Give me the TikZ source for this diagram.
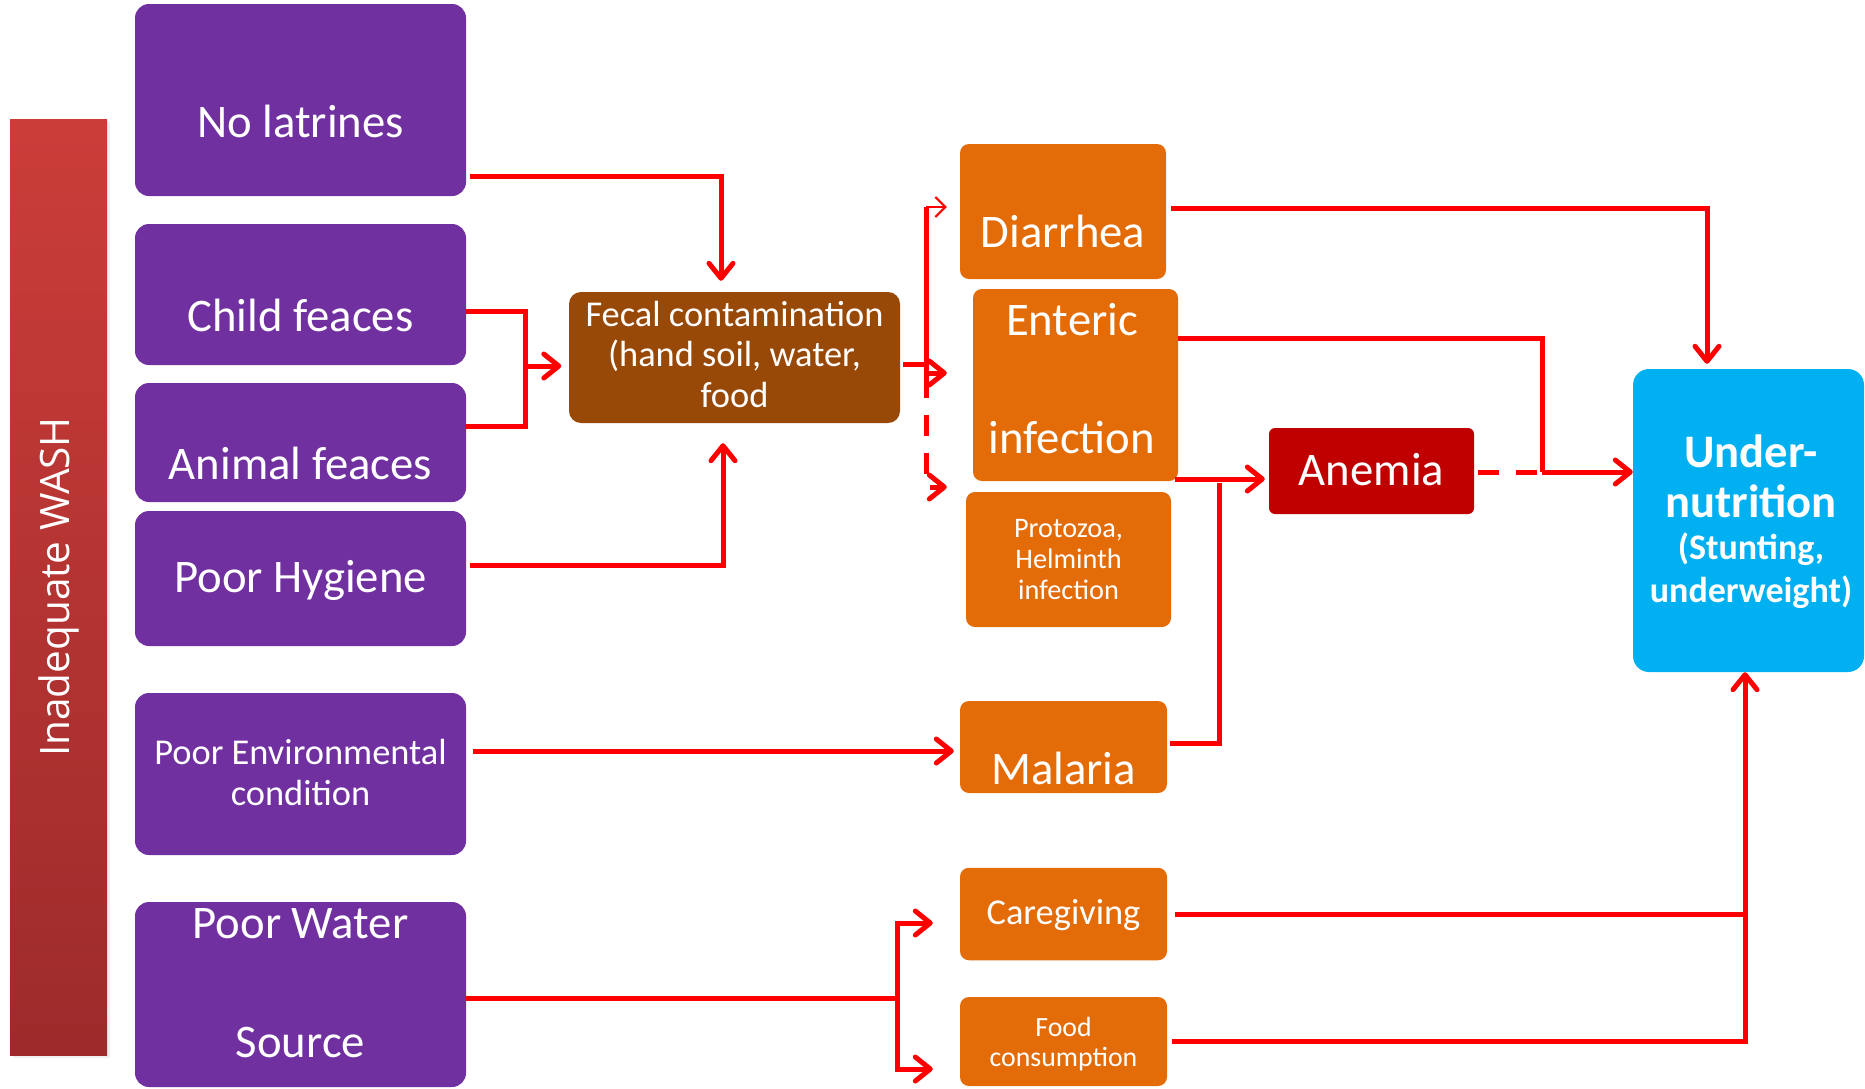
\documentclass[tikz,border=0pt]{standalone}
\usepackage{fontspec}
\setmainfont{Carlito}
\newfontfamily\washfont{Open Sans}
\usepackage{tikz}
\usetikzlibrary{arrows.meta, shadows}
\definecolor{washpurple}{RGB}{112,48,160}
\definecolor{washorange}{RGB}{227,108,9}
\definecolor{washbrown}{RGB}{152,72,7}
\definecolor{washblue}{RGB}{0,176,240}
\definecolor{darkred}{RGB}{192,0,0}
\definecolor{linkred}{RGB}{255,0,0}
\definecolor{bartop}{RGB}{203,61,57}
\definecolor{barbottom}{RGB}{157,43,43}
\tikzset{
  washbar/.style={
      rectangle,
      top color=bartop,
      bottom color=barbottom,
      draw=none,
      inner sep=0pt,
      drop shadow={shadow xshift=3pt, shadow yshift=-3pt, opacity=.12}
  },
  cause/.style={
      fill=washpurple,
      rectangle,
      rounded corners=14pt,
      inner sep=0pt
  },
  effect/.style={
      fill=washorange,
      rectangle,
      rounded corners=9pt,
      inner sep=0pt
  },
  bigtext/.style={text=white, inner sep=0pt, anchor=base, align=center,
      font=\fontsize{46.7}{56}\selectfont},
  midtext/.style={text=white, inner sep=0pt, anchor=base, align=center,
      font=\fontsize{36.4}{40.5}\selectfont},
  smalltext/.style={text=white, inner sep=0pt, anchor=base, align=center,
      font=\fontsize{28.3}{31}\selectfont},
  linkline/.style={draw=linkred, line width=5pt},
  linkarrow/.style={linkline, -{Straight Barb[length=15pt, width=24pt, round]}},
  finearrow/.style={draw=linkred, line width=2pt, -{Straight Barb[length=10pt, width=20pt]}},
  dashlink/.style={dash pattern=on 21pt off 17pt}
}

\begin{document}
\begin{tikzpicture}[x=1pt, y=-1pt]
      \useasboundingbox (0,0) rectangle (1865,1088);

      % WASH bar
      \node (wash) [washbar, minimum width=97pt, minimum height=936pt] at (58.5,587) {};
      \node (washtxt) [rotate=90, text=white, font=\washfont\fontsize{40.5}{48}\selectfont] at (wash.center) {Inadequate WASH};

      % Causes
      \node (nolat) [cause, minimum width=331pt, minimum height=192pt] at (300.5,100) {};
      \node (child) [cause, minimum width=331pt, minimum height=141pt] at (300.5,294.5) {};
      \node (animal) [cause, minimum width=331pt, minimum height=119pt] at (300.5,442.5) {};
      \node (hygiene) [cause, minimum width=331pt, minimum height=135pt] at (300.5,578.5) {};
      \node (environ) [cause, minimum width=331pt, minimum height=162pt] at (300.5,774) {};
      \node (water) [cause, minimum width=331pt, minimum height=185pt] at (300.5,994.5) {};

      \node (nolattxt) [bigtext] at ([shift={(0,37)}]nolat.center) {No latrines};
      \node (childtxt) [bigtext] at ([shift={(0,36.5)}]child.center) {Child feaces};
      \node (animaltxt) [bigtext] at ([shift={(0,36.5)}]animal.center) {Animal feaces};
      \node (hygienetxt) [bigtext] at ([shift={(0,13.5)}]hygiene.center) {Poor Hygiene};
      \node (environtxt) [midtext] at ([shift={(0,31)}]environ.center) {Poor Environmental\\condition};
      \node (watertxt) [bigtext] at ([shift={(0,-56.5)}]water.center) {Poor Water};
      \node (sourcetxt) [bigtext] at ([shift={(0,62.5)}]water.center) {Source};

      % Contamination
      \node (fecal) [rectangle, fill=washbrown, rounded corners=12pt, inner sep=0pt,
          minimum width=331pt, minimum height=131pt] at (734.5,357.5) {};
      \node (fecaltxt) [midtext] at ([shift={(0,49.5)}]fecal.center) {Fecal contamination\\(hand soil, water,\\food};

      % Illness and care
      \node (diar) [effect, minimum width=206pt, minimum height=135pt] at (1063,211.5) {};
      \node (enter) [effect, minimum width=205pt, minimum height=192pt] at (1075.5,385) {};
      \node (proto) [effect, minimum width=205pt, minimum height=135pt] at (1068.5,559.5) {};
      \node (malaria) [effect, minimum width=207pt, minimum height=92pt] at (1063.5,747) {};
      \node (care) [effect, minimum width=207pt, minimum height=92.5pt] at (1063.5,914) {};
      \node (food) [effect, minimum width=207pt, minimum height=89pt] at (1063.5,1041.5) {};
      \node (anemia) [effect, fill=darkred, rounded corners=6pt, minimum width=205pt, minimum height=86pt] at (1371.5,471) {};

      \node (diartxt) [bigtext] at ([shift={(0,35.5)}]diar.center) {Diarrhea};
      \node (entertxt) [bigtext] at ([shift={(-3.5,-50)}]enter.center) {Enteric};
      \node (infecttxt) [bigtext] at ([shift={(-3.5,68)}]enter.center) {infection};
      \node (prototxt) [smalltext] at ([shift={(0,39.5)}]proto.center) {Protozoa,\\Helminth\\infection};
      \node (malariatxt) [bigtext] at ([shift={(0,37)}]malaria.center) {Malaria};
      \node (caretxt) [midtext] at ([shift={(0,10.5)}]care.center) {Caregiving};
      \node (foodtxt) [smalltext, font=\fontsize{27.8}{30}\selectfont] at ([shift={(0,24.5)}]food.center) {Food\\consumption};
      \node (anemiatxt) [bigtext] at ([shift={(0,14)}]anemia.center) {Anemia};

      % Outcome
      \node (under) [rectangle, fill=washblue, rounded corners=16pt, inner sep=0pt,
          minimum width=231pt, minimum height=303pt] at (1748.5,520.5) {};
      \node (undertxt) [bigtext, font=\bfseries\fontsize{46.6}{50}\selectfont] at ([shift={(2.5,-3.5)}]under.center) {Under-\\nutrition};
      \node (stunttxt) [bigtext, font=\bfseries\fontsize{36}{43}\selectfont] at ([shift={(2.5,81.5)}]under.center) {(Stunting,\\underweight)};

      % Sanitation to contamination
      \coordinate (feces) at (525,366);
      \draw[linkarrow] ([shift={(4,76)}]nolat.east) -| ([shift={(-13.5,-11)}]fecal.north);
      \draw[linkline] ([shift={(0,16.5)}]child.east) -| ([shift={(59,-16.5)}]animal.east) -- ([shift={(0,-16.5)}]animal.east);
      \draw[linkarrow] (feces) -- ([xshift=-7.5pt]fecal.west |- feces);
      \draw[linkarrow] ([shift={(4,-13.5)}]hygiene.east) -| ([shift={(-11.5,20)}]fecal.south);

      % Contamination to infections
      \coordinate (split) at (926,364);
      \coordinate (splittop) at (926,207);
      \coordinate (splitmid) at (926,373);
      \coordinate (splitend) at (926,487);
      \draw[linkline] ([xshift=3pt]fecal.east |- split) -- (split);
      \draw[linkline] (splittop) -- ([shift={(0,4)}]splitmid);
      \draw[finearrow] (splittop) -- ([xshift=-13pt]diar.west |- splittop);
      \draw[linkarrow] (splitmid) -- ([xshift=-26pt]enter.west |- splitmid);
      \draw[linkarrow, dashlink] ([shift={(0,4)}]splitmid) |- ([xshift=-19pt]proto.west |- splitend);

      % Infections to undernutrition
      \coordinate (merge) at (1542,472);
      \coordinate (malup) at (1219.5,483);
      \draw[linkarrow] ([shift={(5,-3)}]diar.east) -| ([shift={(-41.5,-5)}]under.north);
      \draw[linkline] ([shift={(0,-47)}]enter.east) -| (merge);
      \draw[linkarrow] (merge) -- (under.west |- merge);
      \draw[linkline, dashlink] ([xshift=4pt]anemia.east |- merge) -- (merge);
      \draw[linkarrow] ([shift={(-3,94)}]enter.east) -- ([shift={(-4,8)}]anemia.west);
      \draw[linkline] ([shift={(3,-4)}]malaria.east) -| (malup);
      \draw[linkarrow] ([shift={(7,-23)}]environ.east) -- ([shift={(-6,4)}]malaria.west);

      % Water to caregiving and food
      \coordinate (watersplit) at (897,998);
      \draw[linkline] ([shift={(0,3.5)}]water.east) -- (watersplit);
      \draw[linkarrow] (watersplit) |- ([shift={(-27,9)}]care.west);
      \draw[linkarrow] (watersplit) |- ([shift={(-27,27.5)}]food.west);
      \draw[linkline] ([xshift=8pt]care.east) -- ([xshift=-3.5pt]under.south |- care.east);
      \draw[linkarrow] ([xshift=5pt]food.east) -| ([xshift=-3.5pt]under.south);
\end{tikzpicture}
\end{document}
